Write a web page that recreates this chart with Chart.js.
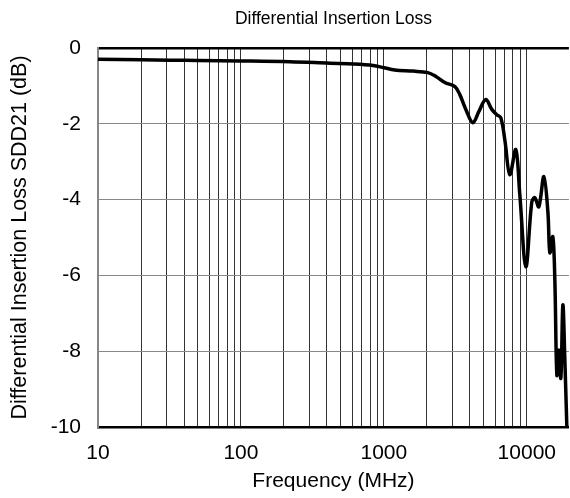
<!DOCTYPE html>
<html>
<head>
<meta charset="utf-8">
<script src="https://cdn.jsdelivr.net/npm/chart.js@4/dist/chart.umd.min.js"></script>
<style>
    html, body { margin: 0; padding: 0; background: #ffffff; }
    #wrap { width: 570px; height: 498px; }
</style>
</head>
<body>
<div id="wrap"><canvas id="lossChart" width="570" height="498"></canvas></div>
<script>
const freqMHz = [10, 20, 32, 50, 100, 220, 420, 610, 840, 1000, 1190, 1600, 2030, 2310, 2670, 3140, 3400, 3745, 4190, 4616, 5164, 5689, 6166, 6577, 7017, 7603, 8375, 8935, 9846, 10841, 11377, 12140, 13160, 14040, 14500, 15210, 15710, 16230, 16760, 17310, 17880, 18460, 19060];
const lossDB = [-0.30, -0.31, -0.32, -0.33, -0.34, -0.36, -0.40, -0.42, -0.46, -0.52, -0.58, -0.61, -0.65, -0.75, -0.91, -1.02, -1.23, -1.62, -1.97, -1.68, -1.36, -1.62, -1.76, -1.84, -2.42, -3.34, -2.68, -3.87, -5.77, -4.06, -3.95, -4.19, -3.39, -4.32, -5.40, -4.98, -6.12, -8.63, -7.97, -8.71, -6.78, -8.23, -10.0];

// Axis ticks
const xLabelTicks = [10, 100, 1000, 10000];
const xGridTicks = [10, 20, 30, 40, 50, 60, 70, 80, 90,
    100, 200, 300, 400, 500, 600, 700, 800, 900,
    1000, 2000, 3000, 4000, 5000, 6000, 7000, 8000, 9000, 10000];
const yMin = -10;
const yMax = 0;
const yStep = 2;

const fontFamily = '"Liberation Sans", Arial, sans-serif';

/**
 * Draws the chart title centred over the plot area
 */
const plotTitle = {
    id: 'plotTitle',
    afterDraw(chart) {
        const ctx = chart.ctx;
        const area = chart.chartArea;
        ctx.save();
        ctx.font = '17.5px ' + fontFamily;
        ctx.fillStyle = '#000000';
        ctx.textAlign = 'center';
        ctx.textBaseline = 'middle';
        ctx.fillText('Differential Insertion Loss', (area.left + area.right) / 2, 19);
        ctx.restore();
    }
};

new Chart(document.getElementById('lossChart'), {
    type: 'line',
    data: {
        labels: freqMHz,
        datasets: [{
            data: freqMHz.map((f, i) => ({ x: f, y: lossDB[i] })),
            borderColor: '#000000',
            borderWidth: 3.5,
            pointRadius: 0,
            tension: 0.35,
            fill: false
        }]
    },
    plugins: [plotTitle],
    options: {
        responsive: false,
        animation: false,
        layout: { padding: { top: 48, right: 0, left: 0, bottom: 0 } },
        plugins: {
            legend: { display: false },
            tooltip: { enabled: false }
        },
        scales: {
            x: {
                type: 'logarithmic',
                min: 10,
                max: 19700,
                afterBuildTicks: scale => {
                    scale.ticks = xGridTicks.map(v => ({ value: v }));
                },
                afterFit: scale => { scale.height = 71; },
                ticks: {
                    autoSkip: false,
                    maxRotation: 0,
                    padding: 14,
                    color: '#000000',
                    font: { family: fontFamily, size: 21 },
                    callback: value => xLabelTicks.includes(value) ? String(value) : ''
                },
                grid: {
                    drawTicks: false,
                    color: '#333333',
                    lineWidth: 1
                },
                border: { color: '#000000', width: 2.5 },
                title: {
                    display: true,
                    text: 'Frequency (MHz)',
                    color: '#000000',
                    font: { family: fontFamily, size: 21 },
                    padding: { top: 0, bottom: 4 }
                }
            },
            y: {
                min: yMin,
                max: yMax,
                afterFit: scale => { scale.width = 98; },
                ticks: {
                    stepSize: yStep,
                    padding: 17,
                    color: '#000000',
                    font: { family: fontFamily, size: 21 }
                },
                grid: {
                    drawTicks: false,
                    color: ctx => ctx.tick.value === 0 ? '#000000' : '#888888',
                    lineWidth: ctx => ctx.tick.value === 0 ? 2.5 : 1
                },
                border: { color: '#888888', width: 2 },
                title: {
                    display: true,
                    text: 'Differential Insertion Loss SDD21 (dB)',
                    color: '#000000',
                    font: { family: fontFamily, size: 21.5 },
                    padding: { top: 7, bottom: 0 }
                }
            }
        }
    }
});
</script>
</body>
</html>
